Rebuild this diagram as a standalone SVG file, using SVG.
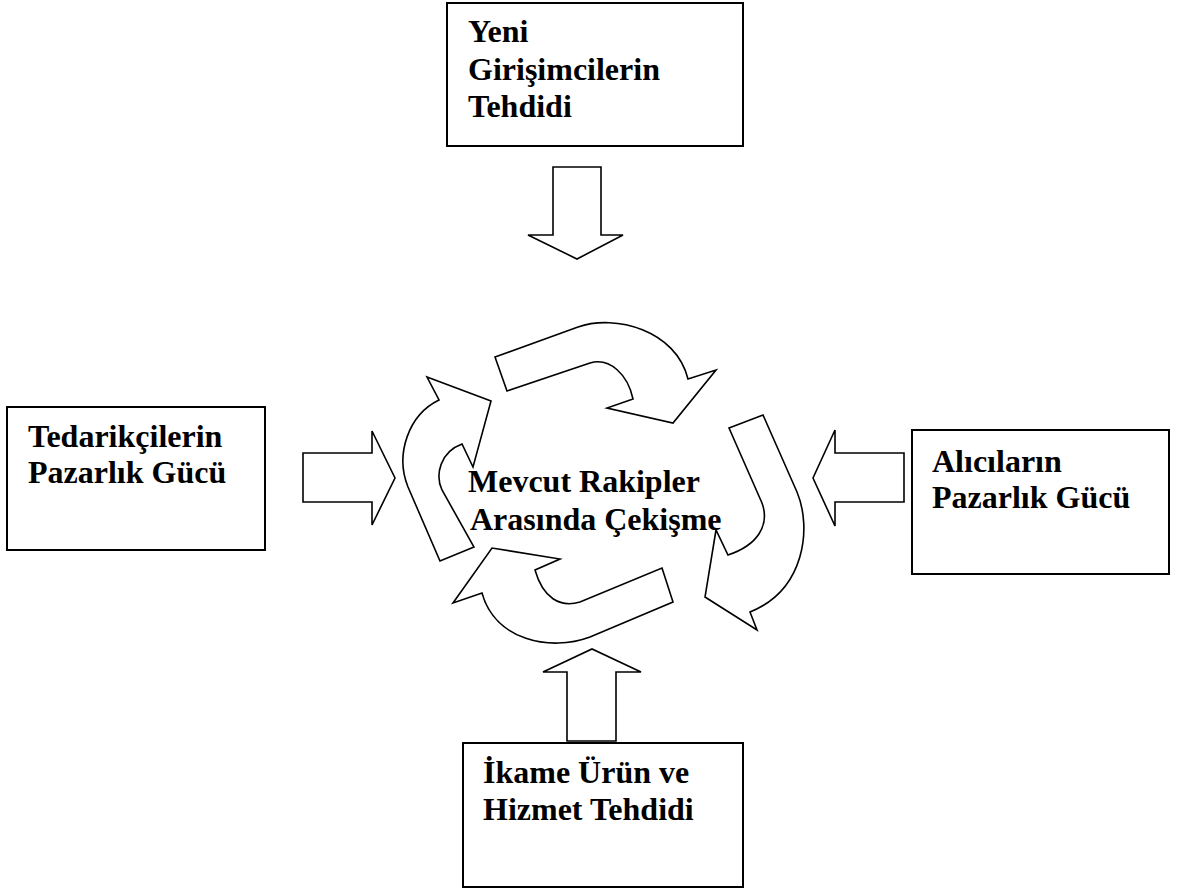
<svg xmlns="http://www.w3.org/2000/svg" width="1186" height="891" viewBox="0 0 1186 891">
<style>
.box{fill:#fff;stroke:#000;stroke-width:2}
.arr{fill:#fff;stroke:#000;stroke-width:1.6;stroke-linejoin:miter}
.t{font-family:"Liberation Serif","Times New Roman",serif;font-weight:bold;font-size:32px;fill:#000}
</style>
<rect width="1186" height="891" fill="#fff"/>
<g id="connectors">
<polygon class="arr" points="553,167 601,167 601,235 623,235 577,259 528,235 553,235"/>
<polygon class="arr" points="303,453 372,453 372,431 395,478 372,525 372,502 303,502"/>
<polygon class="arr" points="904,453 835,453 835,430 813,478 835,526 835,502 904,502"/>
<polygon class="arr" points="567,741 567,672 543,672 592,649 641,672 616,672 616,741"/>
</g>
<g id="cycle">
<path class="arr" d="M495,357 L578,327 C615,314 676,330 688,379 L716,370 L673,423 L607,408 L633,399 C628,375 610,357 590,363 L507,391 Z"/>
<path class="arr" d="M729,428 L763,415 L797,492 C812,528 805,590 750,612 L757,630 L705,597 L716,530 L728,555 C758,545 770,525 762,503 Z"/>
<path class="arr" d="M662,568 L673,602 L590,637 C550,652 495,640 482,593 L453,603 L492,548 L560,559 L535,570 C543,598 560,608 580,602 Z"/>
<path class="arr" d="M474,547 L440,561 L408,487 C395,455 408,415 439,400 L427,377 L491,401 L473,467 L462,444 C440,452 435,475 442,490 Z"/>
</g>
<g id="node-top">
<rect class="box" x="447" y="3" width="296" height="143"/>
<text class="t" x="468" y="42">Yeni</text>
<text class="t" x="468" y="80">Girişimcilerin</text>
<text class="t" x="468" y="117">Tehdidi</text>
</g>
<g id="node-left">
<rect class="box" x="7" y="407" width="258" height="143"/>
<text class="t" x="28" y="447">Tedarikçilerin</text>
<text class="t" x="28" y="483">Pazarlık Gücü</text>
</g>
<g id="node-right">
<rect class="box" x="912" y="430" width="257" height="144"/>
<text class="t" x="932" y="472">Alıcıların</text>
<text class="t" x="932" y="508">Pazarlık Gücü</text>
</g>
<g id="node-bottom">
<rect class="box" x="463" y="743" width="280" height="144"/>
<text class="t" x="483" y="783">İkame Ürün ve</text>
<text class="t" x="483" y="820">Hizmet Tehdidi</text>
</g>
<g id="node-center">
<text class="t" x="468" y="492">Mevcut Rakipler</text>
<text class="t" x="470" y="530">Arasında Çekişme</text>
</g>
</svg>
